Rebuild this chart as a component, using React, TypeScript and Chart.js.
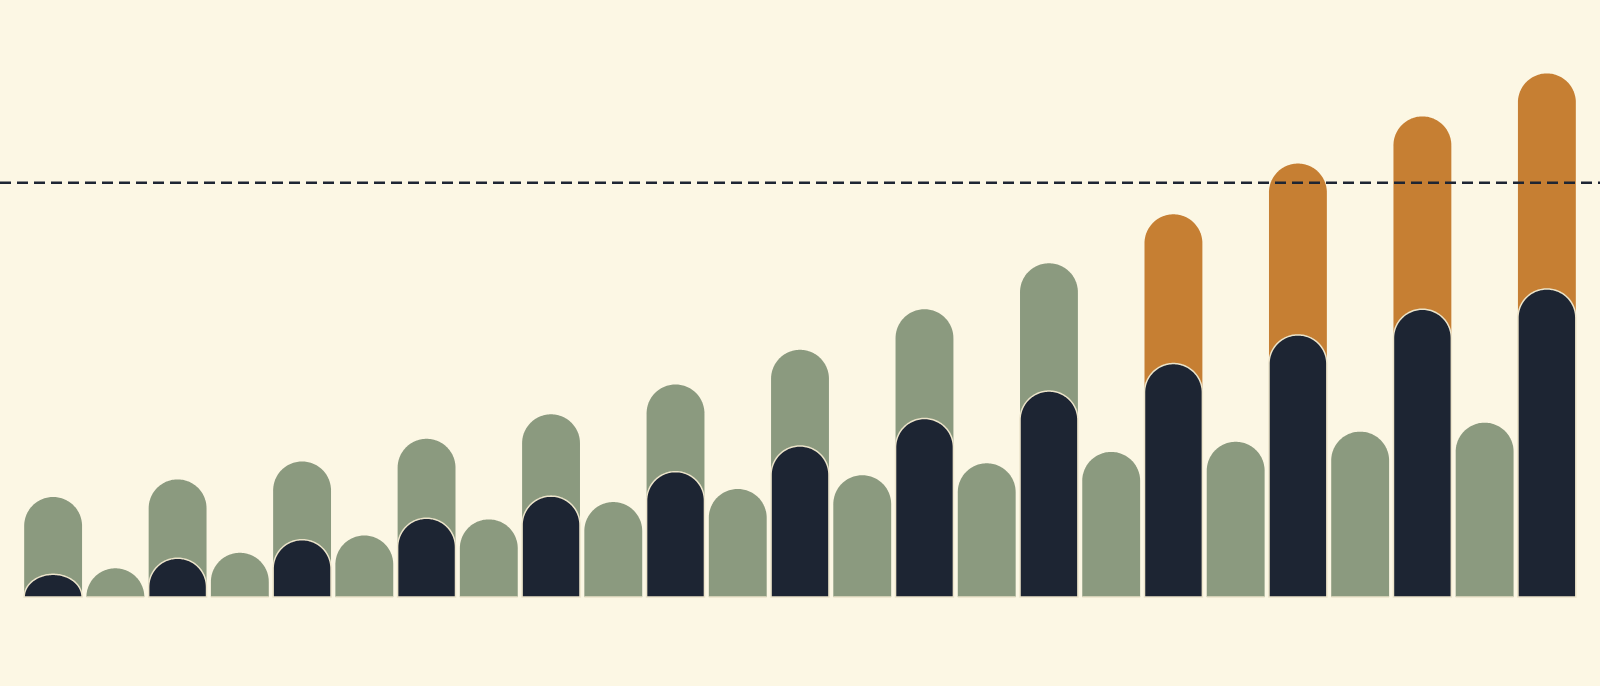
import { useEffect, useRef } from 'react';
import { Chart, registerables } from 'chart.js';
Chart.register(...registerables);

// 25 slots: tall bars on even indices, short green bars between them
const labels = Array.from({ length: 25 }, (_, i) => `${i + 1}`);
const totals = [
  16.75, 4.8, 19.7, 7.4, 22.7, 10.3, 26.5, 13.0, 30.6, 15.9, 35.6, 18.1, 41.4,
  20.4, 48.2, 22.4, 55.9, 24.3, 64.1, 26.0, 72.6, 27.7, 80.5, 29.2, 87.7,
];
const inner = [
  3.8, null, 6.5, null, 9.6, null, 13.2, null, 16.9, null, 21.0, null, 25.3,
  null, 29.9, null, 34.5, null, 39.1, null, 43.9, null, 48.2, null, 51.6,
];
const highlighted = [18, 20, 22, 24];
const target = 69.4;

const BG = '#fcf7e4';
const GREEN = '#8b9a7f';
const DARK = '#1d2533';
const ORANGE = '#c67f33';
const STEPS = 72;

// draws the bars with a full round cap (or a dome when the bar is too short)
const domeBars = {
  id: 'domeBars',
  beforeDatasetsDraw(chart: Chart) {
    const ctx = chart.ctx;
    const metas = chart.getSortedVisibleDatasetMetas();
    for (let m = metas.length - 1; m >= 0; m--) {
      const meta = metas[m];
      meta.data.forEach((el: any) => {
        if (el.skip) return;
        const { x, y, base, width } = el.getProps(['x', 'y', 'base', 'width'], true);
        if (y == null || isNaN(y)) return;
        const rx = width / 2;
        const ry = Math.min(rx, base - y);
        const cy = y + ry;
        ctx.save();
        ctx.beginPath();
        ctx.moveTo(x - rx, base);
        for (let s = 0; s <= STEPS; s++) {
          const t = Math.PI + (Math.PI * s) / STEPS;
          ctx.lineTo(x + rx * Math.cos(t), cy + ry * Math.sin(t));
        }
        ctx.lineTo(x + rx, base);
        ctx.closePath();
        ctx.fillStyle = el.options.backgroundColor;
        ctx.fill();
        if (el.options.borderWidth) {
          ctx.lineWidth = el.options.borderWidth;
          ctx.strokeStyle = el.options.borderColor;
          ctx.stroke();
        }
        ctx.restore();
      });
    }
    return false;
  },
};

const targetLine = {
  id: 'targetLine',
  afterDraw(chart: Chart) {
    const y = chart.scales.y.getPixelForValue(target);
    const ctx = chart.ctx;
    ctx.save();
    ctx.strokeStyle = DARK;
    ctx.lineWidth = 2.6;
    ctx.setLineDash([11, 6]);
    ctx.beginPath();
    ctx.moveTo(0, y);
    ctx.lineTo(chart.width, y);
    ctx.stroke();
    ctx.restore();
  },
};

export default function App() {
  const canvasRef = useRef<HTMLCanvasElement>(null);
  const chartRef = useRef<Chart | null>(null);

  useEffect(() => {
    if (!canvasRef.current) return;
    if (chartRef.current) chartRef.current.destroy();

    chartRef.current = new Chart(canvasRef.current, {
      type: 'bar',
      data: {
        labels,
        datasets: [
          {
            label: 'inner',
            data: inner,
            backgroundColor: DARK,
            borderColor: '#ece4ca',
            borderWidth: 1.5,
            grouped: false,
            categoryPercentage: 1,
            barPercentage: 0.93,
          },
          {
            label: 'total',
            data: totals,
            backgroundColor: totals.map((_, i) => (highlighted.includes(i) ? ORANGE : GREEN)),
            borderWidth: 0,
            grouped: false,
            categoryPercentage: 1,
            barPercentage: 0.93,
          },
        ],
      },
      options: {
        animation: false,
        responsive: true,
        maintainAspectRatio: false,
        layout: { padding: { left: 22, right: 22, top: 0, bottom: 89 } },
        plugins: { legend: { display: false }, tooltip: { enabled: false } },
        scales: {
          x: { display: false },
          y: { display: false, min: 0, max: 100 },
        },
      },
      plugins: [domeBars, targetLine],
    });

    return () => { chartRef.current?.destroy(); };
  }, []);

  return (
    <div style={{ position: 'fixed', left: 0, top: 0, width: 1600, height: 686, background: BG }}>
      <canvas ref={canvasRef} role="img" aria-label="Bar chart" />
    </div>
  );
}
